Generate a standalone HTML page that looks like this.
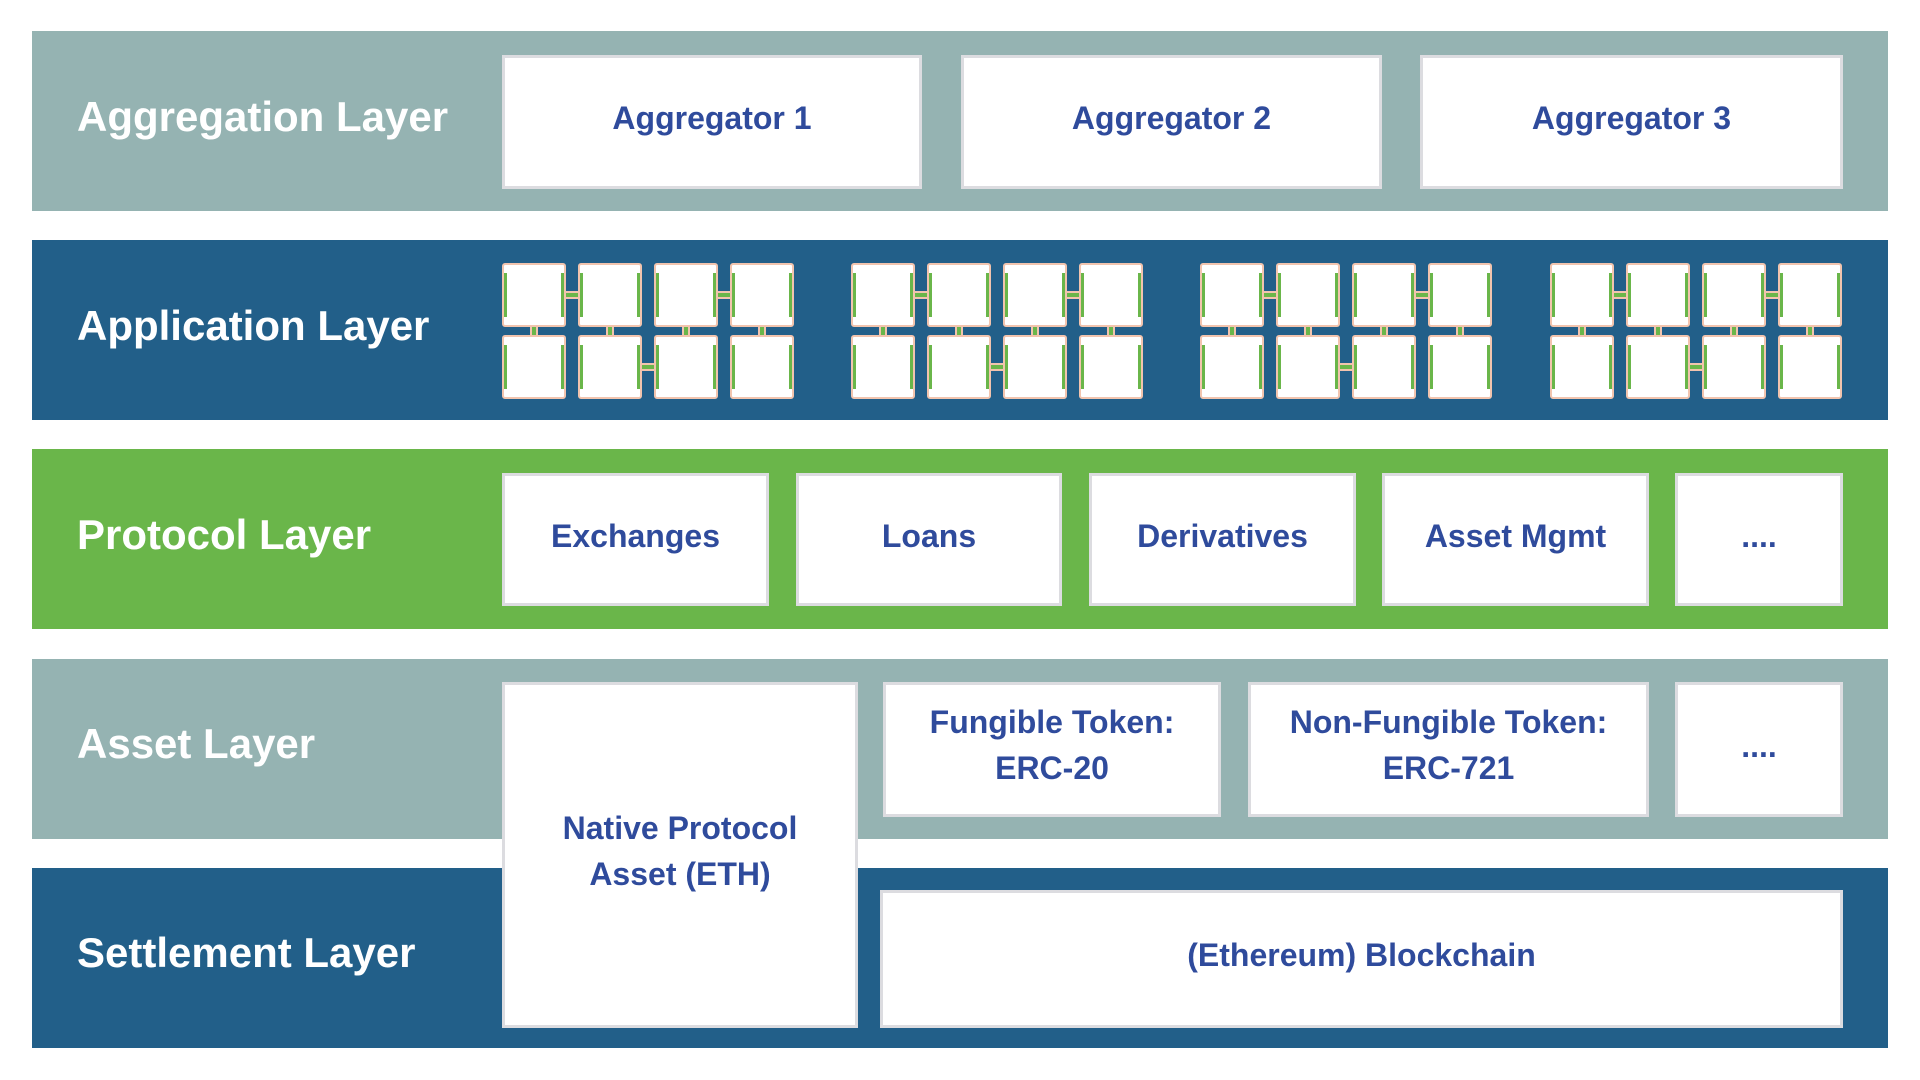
<!DOCTYPE html>
<html><head><meta charset="utf-8"><style>
*{margin:0;padding:0;box-sizing:border-box}
body{width:1920px;height:1080px;background:#fff;position:relative;overflow:hidden;font-family:"Liberation Sans",Arial,sans-serif}
.band{position:absolute;left:32px;width:1856px;height:180px}
.lbl{position:absolute;left:77px;color:#fff;font-weight:bold;font-size:42px;line-height:48px}
.box{position:absolute;background:#fff;border:3px solid #dcdce0;display:flex;align-items:center;justify-content:center;text-align:center;color:#2f4b9c;font-weight:bold;font-size:32px;line-height:46px;padding-bottom:8px}
.sb{position:absolute;width:64px;height:64px;background:#fff;border:2px solid #f2c4ae;border-radius:3px}
.sb:before,.sb:after{content:"";position:absolute;top:8px;width:3px;height:44px;background:#6ab64a}
.sb:before{left:0}.sb:after{right:0}
.hc{position:absolute;width:12px;height:8px;background:#f2c4ae}
.hc:after{content:"";position:absolute;left:0;top:2px;width:12px;height:4px;background:#6ab64a}
.vc{position:absolute;width:8px;height:8px;background:#f2c4ae}
.vc:after{content:"";position:absolute;left:2px;top:0;width:4px;height:8px;background:#6ab64a}
</style></head><body>
<div class="band" style="top:31px;background:#95b3b2"></div>
<div class="band" style="top:240px;background:#225f89"></div>
<div class="band" style="top:449px;background:#6ab64a"></div>
<div class="band" style="top:659px;background:#95b3b2"></div>
<div class="band" style="top:868px;background:#225f89"></div>

<div class="lbl" style="top:93px">Aggregation Layer</div>
<div class="lbl" style="top:302px">Application Layer</div>
<div class="lbl" style="top:511px">Protocol Layer</div>
<div class="lbl" style="top:720px">Asset Layer</div>
<div class="lbl" style="top:929px">Settlement Layer</div>

<div class="box" style="left:502px;top:55px;width:420px;height:134px">Aggregator 1</div>
<div class="box" style="left:961px;top:55px;width:421px;height:134px">Aggregator 2</div>
<div class="box" style="left:1420px;top:55px;width:423px;height:134px">Aggregator 3</div>

<div class="box" style="left:502px;top:473px;width:267px;height:133px">Exchanges</div>
<div class="box" style="left:796px;top:473px;width:266px;height:133px">Loans</div>
<div class="box" style="left:1089px;top:473px;width:267px;height:133px">Derivatives</div>
<div class="box" style="left:1382px;top:473px;width:267px;height:133px">Asset Mgmt</div>
<div class="box" style="left:1675px;top:473px;width:168px;height:133px">....</div>

<div class="box" style="left:880px;top:890px;width:963px;height:138px">(Ethereum) Blockchain</div>
<div class="box" style="left:502px;top:682px;width:356px;height:346px;padding-bottom:8px">Native Protocol<br>Asset (ETH)</div>
<div class="box" style="left:883px;top:682px;width:338px;height:135px;padding-bottom:10px">Fungible Token:<br>ERC-20</div>
<div class="box" style="left:1248px;top:682px;width:401px;height:135px;padding-bottom:10px">Non-Fungible Token:<br>ERC-721</div>
<div class="box" style="left:1675px;top:682px;width:168px;height:135px">....</div>

<div id="app"></div>
<script>
var g=[502,851,1200,1550],h='';
g.forEach(function(x0){
 for(var c=0;c<4;c++){var x=x0+c*76;
  h+='<div class="sb" style="left:'+x+'px;top:263px"></div><div class="sb" style="left:'+x+'px;top:335px"></div>';
  h+='<div class="vc" style="left:'+(x+28)+'px;top:327px"></div>';}
 h+='<div class="hc" style="left:'+(x0+64)+'px;top:291px"></div>';
 h+='<div class="hc" style="left:'+(x0+2*76+64)+'px;top:291px"></div>';
 h+='<div class="hc" style="left:'+(x0+76+64)+'px;top:363px"></div>';
});
document.getElementById('app').innerHTML=h;
</script>
</body></html>
